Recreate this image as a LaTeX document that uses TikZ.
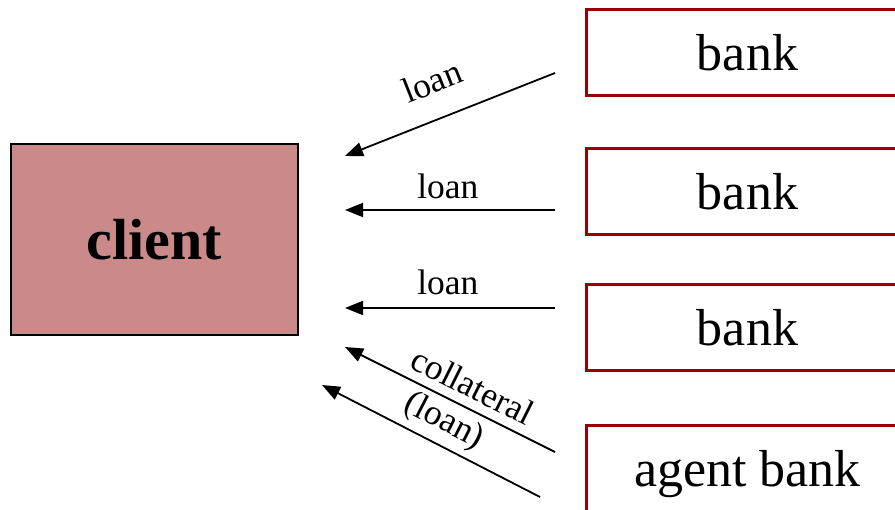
\documentclass[tikz,border=0pt]{standalone}
\usepackage{fontspec}
\setmainfont{Liberation Serif}
\usetikzlibrary{arrows.meta,positioning,calc}
\definecolor{clientred}{RGB}{201,138,137}
\definecolor{bankred}{RGB}{153,0,0}
\tikzset{
    client/.style={draw=black, line width=2pt, fill=clientred, minimum width=287pt,
                   minimum height=191pt, inner sep=0pt, font=\fontsize{58}{62}\selectfont\bfseries},
    bankbox/.style={draw=bankred, line width=3pt, fill=white, minimum width=322pt,
                    minimum height=86pt, inner sep=0pt, anchor=west, font=\fontsize{52}{60}\selectfont},
    flow/.style={line width=1.8pt, -{Triangle[length=18pt,width=14pt]}},
    flowlabel/.style={font=\fontsize{35.5}{40}\selectfont, inner sep=2pt, sloped},
}

\begin{document}
\begin{tikzpicture}[x=1pt,y=-1pt]
    \useasboundingbox (0,0) rectangle (895,510);
    \clip (0,0) rectangle (895,510);

    % Client
    \node[client] (client) at (154.5,239.5) {client};

    % Banks
    \node[bankbox] (bank1) at (585,53) {bank};
    \node[bankbox] (bank2) at (585,192) {bank};
    \node[bankbox] (bank3) at (585,328) {bank};
    \node[bankbox, minimum height=96pt] (agent) at (585,474) {agent bank};

    % Arrow ends
    \coordinate (s1) at (555,73);  \coordinate (e1) at (345,156);
    \coordinate (s2) at (555,210); \coordinate (e2) at (345,210);
    \coordinate (s3) at (555,308); \coordinate (e3) at (345,308);
    \coordinate (s4) at (555,452); \coordinate (e4) at (345,347);
    \coordinate (s5) at (540,497); \coordinate (e5) at (322,385);

    % Flows
    \draw[flow] (s1) -- node[flowlabel, pos=0.52, above=22pt] {loan} (e1);
    \draw[flow] (s2) -- node[flowlabel, pos=0.51, above=8pt] {loan} (e2);
    \draw[flow] (s3) -- node[flowlabel, pos=0.51, above=10pt] {loan} (e3);
    \draw[flow] (s4) -- node[flowlabel, pos=0.44, above=7pt] {collateral} (e4);
    \draw[flow] (s5) -- node[flowlabel, pos=0.49, above=4pt] {(loan)} (e5);
\end{tikzpicture}
\end{document}
